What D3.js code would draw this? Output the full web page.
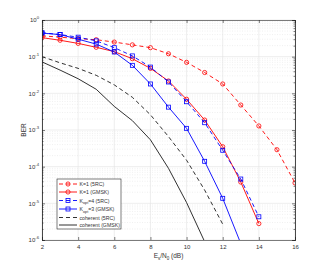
<!doctype html>
<html lang="en">
<head>
<meta charset="utf-8">
<script src="https://d3js.org/d3.v7.min.js"></script>
<style>
  body { margin: 0; background: #fff; }
  text { font-family: "Liberation Sans", Arial, sans-serif; fill: #333; }
</style>
</head>
<body>
<div id="chart"></div>
<script>
// Es/N0 (dB)
var snr = [2, 3, 4, 5, 6, 7, 8, 9, 10, 11, 12, 13, 14, 15, 16]

// BER values
var k1_5rc   = [0.37, 0.34, 0.31, 0.29, 0.25, 0.21, 0.176, 0.12, 0.07, 0.037, 0.018, 0.0048, 0.00129, 0.00029, 0.000036]
var k1_gmsk  = [0.33, 0.28, 0.23, 0.18, 0.137, 0.088, 0.048, 0.0217, 0.0069, 0.00187, 0.00035, 0.000038, 0.0000028]
var kopt4_5rc  = [0.45, 0.40, 0.34, 0.27, 0.176, 0.105, 0.052, 0.0204, 0.0059, 0.00158, 0.00028, 0.000046, 0.0000043]
var kopt3_gmsk = [0.44, 0.40, 0.30, 0.22, 0.134, 0.058, 0.018, 0.0042, 0.00111, 0.00014, 0.0000137, 0.0000008]
var coh_5rc  = [0.1, 0.068, 0.048, 0.031, 0.017, 0.0078, 0.0026, 0.00066, 0.00015, 0.000023, 0.0000027]
var coh_gmsk = [0.072, 0.043, 0.025, 0.0129, 0.0044, 0.0018, 0.00054, 0.00009, 0.0000105, 0.0000009]

var xTicks = [2, 4, 6, 8, 10, 12, 14, 16]
var yTicks = [1e-6, 1e-5, 1e-4, 1e-3, 1e-2, 1e-1, 1]

var series = [
  { name: "K=1 (5RC)",      vals: k1_5rc,     color: "#ff0000", dash: "4,3", marker: "circle" },
  { name: "K=1 (GMSK)",     vals: k1_gmsk,    color: "#ff0000", dash: null,  marker: "circle" },
  { name: "K_opt=4 (5RC)",  vals: kopt4_5rc,  color: "#0000ff", dash: "4,3", marker: "square" },
  { name: "K_opt=3 (GMSK)", vals: kopt3_gmsk, color: "#0000ff", dash: null,  marker: "square" },
  { name: "coherent (5RC)", vals: coh_5rc,    color: "#1a1a1a", dash: "4,3", marker: null },
  { name: "coherent (GMSK)",vals: coh_gmsk,   color: "#1a1a1a", dash: null,  marker: null }
]

var width = 326, height = 271
var m = { left: 42, right: 31, top: 20, bottom: 31 }

var svg = d3.select("#chart").append("svg")
  .attr("width", width).attr("height", height)

var x = d3.scaleLinear().domain([2, 16]).range([m.left, width - m.right])
var y = d3.scaleLog().domain([1e-6, 1]).range([height - m.bottom, m.top])

// grid: minor (dotted) then major
var minor = []
for (var e = -6; e < 0; e++) for (var k = 2; k <= 9; k++) minor.push(k * Math.pow(10, e))

svg.append("g").selectAll("line").data(minor).enter().append("line")
  .attr("x1", m.left).attr("x2", width - m.right)
  .attr("y1", function(d){ return y(d) }).attr("y2", function(d){ return y(d) })
  .attr("stroke", "#e6e6e6").attr("stroke-width", 0.6).attr("stroke-dasharray", "1,1.5")

svg.append("g").selectAll("line").data(yTicks).enter().append("line")
  .attr("x1", m.left).attr("x2", width - m.right)
  .attr("y1", function(d){ return y(d) }).attr("y2", function(d){ return y(d) })
  .attr("stroke", "#e3e3e3").attr("stroke-width", 0.6)

svg.append("g").selectAll("line").data(xTicks).enter().append("line")
  .attr("x1", function(d){ return x(d) }).attr("x2", function(d){ return x(d) })
  .attr("y1", m.top).attr("y2", height - m.bottom)
  .attr("stroke", "#e3e3e3").attr("stroke-width", 0.6)

// clip for data
svg.append("clipPath").attr("id", "clip").append("rect")
  .attr("x", m.left).attr("y", m.top)
  .attr("width", width - m.left - m.right).attr("height", height - m.top - m.bottom)

var plot = svg.append("g").attr("clip-path", "url(#clip)")

var line = d3.line()
  .x(function(d){ return x(d[0]) })
  .y(function(d){ return y(d[1]) })

series.forEach(function(s) {
  var pts = s.vals.map(function(v, i){ return [snr[i], v] })
  plot.append("path")
    .datum(pts)
    .attr("d", line)
    .attr("fill", "none")
    .attr("stroke", s.color)
    .attr("stroke-width", 0.9)
    .attr("stroke-dasharray", s.dash)
  if (s.marker == "circle") {
    plot.selectAll(null).data(pts).enter().append("circle")
      .attr("cx", function(d){ return x(d[0]) })
      .attr("cy", function(d){ return y(d[1]) })
      .attr("r", 2.1)
      .attr("fill", "none").attr("stroke", s.color).attr("stroke-width", 0.8)
  } else if (s.marker == "square") {
    plot.selectAll(null).data(pts).enter().append("rect")
      .attr("x", function(d){ return x(d[0]) - 2 })
      .attr("y", function(d){ return y(d[1]) - 2 })
      .attr("width", 4).attr("height", 4)
      .attr("fill", "none").attr("stroke", s.color).attr("stroke-width", 0.8)
  }
})

// axes (MATLAB style, ticks inside, box)
var axisColor = "#262626"
var xAxis = d3.axisBottom(x).tickValues(xTicks).tickSize(-3).tickPadding(5)
var gx = svg.append("g").attr("transform", "translate(0," + (height - m.bottom) + ")").call(xAxis)
svg.append("g").attr("transform", "translate(0," + m.top + ")")
  .call(d3.axisTop(x).tickValues(xTicks).tickSize(-3).tickFormat(""))

svg.append("g").attr("transform", "translate(" + m.left + ",0)")
  .call(d3.axisLeft(y).tickValues(yTicks).tickSize(-3).tickFormat(""))
svg.append("g").attr("transform", "translate(" + (width - m.right) + ",0)")
  .call(d3.axisRight(y).tickValues(yTicks).tickSize(-3).tickFormat(""))

// minor y ticks, both sides
svg.append("g").attr("transform", "translate(" + m.left + ",0)")
  .call(d3.axisLeft(y).tickValues(minor).tickSize(-1.5).tickFormat(""))
svg.append("g").attr("transform", "translate(" + (width - m.right) + ",0)")
  .call(d3.axisRight(y).tickValues(minor).tickSize(-1.5).tickFormat(""))

svg.selectAll(".domain").attr("stroke", axisColor).attr("stroke-width", 0.6)
svg.selectAll(".tick line").attr("stroke", axisColor).attr("stroke-width", 0.6)
gx.selectAll("text").attr("font-size", 6).style("fill", "#333")

// y tick labels as 10^n
yTicks.forEach(function(v) {
  var t = svg.append("text")
    .attr("x", m.left - 3).attr("y", y(v) + 2.2)
    .attr("text-anchor", "end").attr("font-size", 6)
  t.append("tspan").text("10")
  t.append("tspan").attr("dy", -3).attr("font-size", 4.2).text(Math.round(Math.log10(v)))
})

// axis labels
svg.append("text")
  .attr("transform", "translate(26," + ((m.top + height - m.bottom) / 2) + ") rotate(-90)")
  .attr("text-anchor", "middle").attr("font-size", 6.5).text("BER")

var xl = svg.append("text")
  .attr("x", (m.left + width - m.right) / 2).attr("y", 258)
  .attr("text-anchor", "middle").attr("font-size", 6.5)
xl.append("tspan").text("E")
xl.append("tspan").attr("dy", 2).attr("font-size", 4.5).text("s")
xl.append("tspan").attr("dy", -2).text("/N")
xl.append("tspan").attr("dy", 2).attr("font-size", 4.5).text("0")
xl.append("tspan").attr("dy", -2).text(" (dB)")

// legend
var lg = svg.append("g").attr("transform", "translate(57,179)")
lg.append("rect").attr("width", 64).attr("height", 50)
  .attr("fill", "#fff").attr("stroke", "#262626").attr("stroke-width", 0.6)

var rowY = [5, 13, 21.5, 30, 38.5, 46]
series.forEach(function(s, i) {
  var ry = rowY[i]
  lg.append("line").attr("x1", 2).attr("x2", 20).attr("y1", ry).attr("y2", ry)
    .attr("stroke", s.color).attr("stroke-width", 0.9).attr("stroke-dasharray", s.dash)
  if (s.marker == "circle") {
    lg.append("circle").attr("cx", 11).attr("cy", ry).attr("r", 2.1)
      .attr("fill", "none").attr("stroke", s.color).attr("stroke-width", 0.8)
  } else if (s.marker == "square") {
    lg.append("rect").attr("x", 9).attr("y", ry - 2).attr("width", 4).attr("height", 4)
      .attr("fill", "none").attr("stroke", s.color).attr("stroke-width", 0.8)
  }
  var t = lg.append("text").attr("x", 22.5).attr("y", ry + 2).attr("font-size", 5.2)
  var parts = s.name.split("_opt")
  if (parts.length > 1) {
    t.append("tspan").text(parts[0])
    t.append("tspan").attr("dy", 1.8).attr("font-size", 3.8).text("opt")
    t.append("tspan").attr("dy", -1.8).text(parts[1])
  } else {
    t.text(s.name)
  }
})
</script>
</body>
</html>
